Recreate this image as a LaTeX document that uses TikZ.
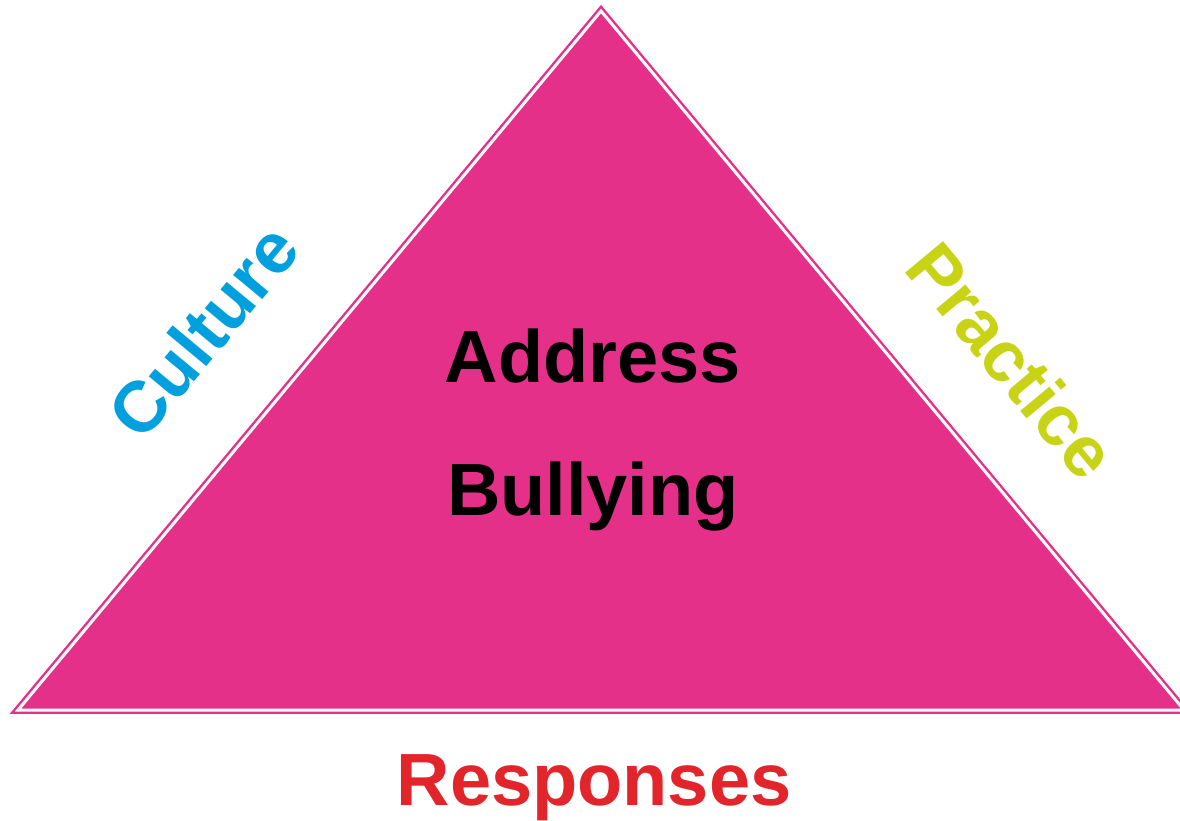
\documentclass[tikz,border=0pt]{standalone}
\usepackage{fontspec}
\setmainfont{Liberation Sans}
\usetikzlibrary{positioning}

\definecolor{trifill}{HTML}{E5308A}
\definecolor{culturecol}{HTML}{00A0DF}
\definecolor{practicecol}{HTML}{C8D316}
\definecolor{responsecol}{HTML}{E2242B}

\begin{document}
\begin{tikzpicture}[x=1pt,y=-1pt]
        \tikzstyle{word}
	  =[inner sep=0pt, font=\bfseries\fontsize{74}{80}\selectfont]

	\useasboundingbox (0,0) rectangle (1180,821);

	% the triangle, with its thin white inner rim
	\coordinate (left) at (18,710);
	\coordinate (top) at (601,11);
	\coordinate (right) at (1184,710);
	\draw[fill=trifill, draw=trifill, double=white, double distance=3pt,
	  line width=2.4pt] (left) -- (top) -- (right) -- cycle;

	\node[word, anchor=base] (address)
	  at (593,382) {Address};
	\node[word, anchor=base] (bullying)
	  at (593,515) {Bullying};

	\node[word, text=culturecol, rotate=50.2, scale=0.97] (culture)
	  at (203,331) {Culture};
	\node[word, text=practicecol, rotate=-50.2, scale=0.97] (practice)
	  at (1012,360) {Practice};
	\node[word, text=responsecol, anchor=base] (responses)
	  at (594,805) {Responses};
    \end{tikzpicture}
\end{document}
